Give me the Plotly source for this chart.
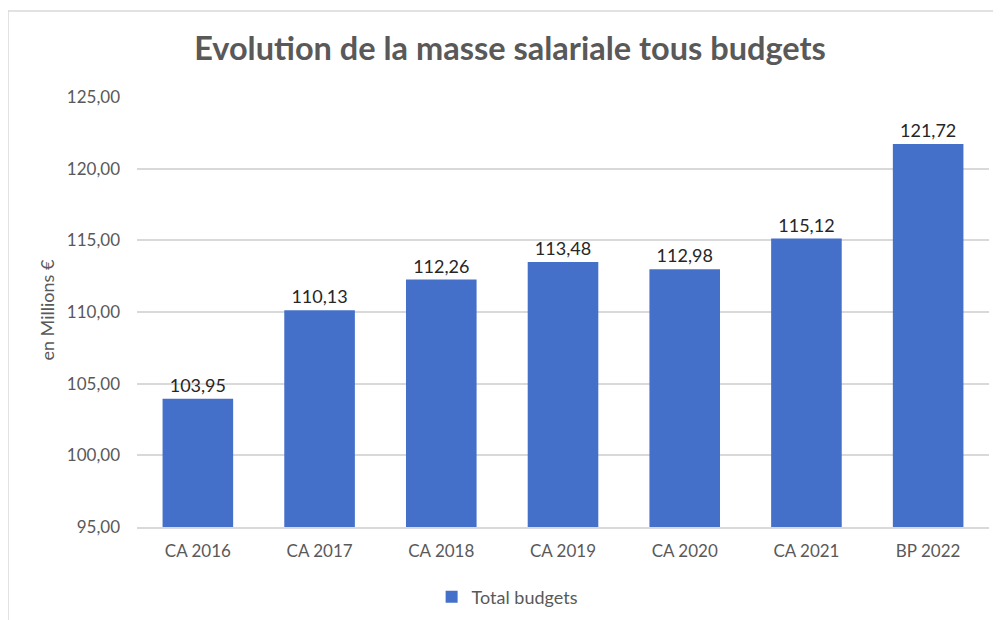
import plotly.graph_objects as go

categories = ['CA 2016', 'CA 2017', 'CA 2018', 'CA 2019', 'CA 2020', 'CA 2021', 'BP 2022']
total_budgets = [103.95, 110.13, 112.26, 113.48, 112.98, 115.12, 121.72]
y_ticks = [95, 100, 105, 110, 115, 120, 125]

fig = go.Figure()
fig.add_trace(go.Bar(
    x=categories,
    y=total_budgets,
    name='Total budgets',
    marker=dict(color='#4570C9', line=dict(width=0)),
    texttemplate='%{y:.2f}',
    textposition='outside',
    textfont=dict(size=18, color='#262626'),
    cliponaxis=False,
))

# light grey frame of the chart area
fig.add_shape(type='rect', xref='paper', yref='paper',
              x0=-0.1514, x1=1.05, y0=-0.3, y1=1.2,
              line=dict(color='#d9d9d9', width=1.5), fillcolor='rgba(0,0,0,0)',
              layer='below')

fig.add_annotation(text='en Millions €', xref='paper', yref='paper',
                   x=-0.106, y=0.505, xanchor='center', yanchor='middle',
                   textangle=-90, showarrow=False,
                   font=dict(size=18, color='#595959'))

fig.update_layout(
    width=1001, height=620,
    margin=dict(l=129, r=20, t=89, b=101, autoexpand=False),
    paper_bgcolor='white', plot_bgcolor='white',
    separators=', ',
    font=dict(family='Lato, Open Sans, sans-serif', color='#595959'),
    title=dict(text='<b>Evolution de la masse salariale tous budgets</b>',
               x=0.5015, xanchor='center', y=0.935, yanchor='middle',
               xref='container', yref='container',
               font=dict(size=32.5, color='#595959')),
    bargap=0.42,
    showlegend=True,
    legend=dict(orientation='h', x=0.435, xanchor='center', y=-0.163, yanchor='middle',
                itemwidth=30, font=dict(size=18, color='#595959')),
    xaxis=dict(showgrid=False, showline=True, linecolor='#d9d9d9', linewidth=1.5,
               ticks='', automargin=False, ticklabelstandoff=8,
               tickfont=dict(size=17, color='#595959')),
    yaxis=dict(range=[95, 125], tickvals=y_ticks, tickformat='.2f',
               showgrid=True, gridcolor='#d9d9d9', gridwidth=1.5,
               zeroline=False, showline=False, ticks='', automargin=False,
               ticklabelstandoff=16,
               tickfont=dict(size=17, color='#595959')),
)

fig.write_html("out.html")
